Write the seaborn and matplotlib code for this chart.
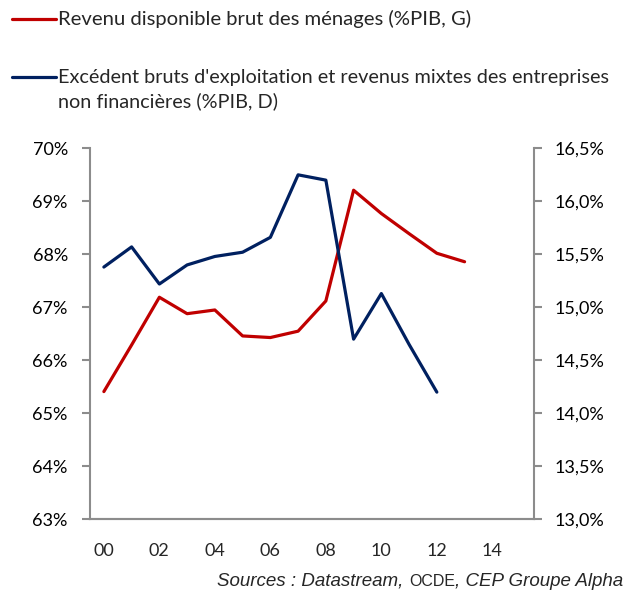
"""Revenu disponible des ménages vs EBE des entreprises (double axe)."""

import matplotlib

matplotlib.use("Agg")
import matplotlib.pyplot as plt
import pandas as pd
import seaborn as sns
from matplotlib.ticker import FixedLocator, FuncFormatter

years = list(range(2000, 2014))
menages = [65.41, 66.29, 67.19, 66.88, 66.95, 66.46, 66.43, 66.55, 67.12,
           69.21, 68.77, 68.39, 68.02, 67.86]
entreprises = [15.38, 15.57, 15.22, 15.40, 15.48, 15.52, 15.66, 16.25, 16.20,
               14.70, 15.13, 14.65, 14.20]
year_labels = ["00", "02", "04", "06", "08", "10", "12", "14"]

label_red = "Revenu disponible brut des ménages (%PIB, G)"
label_blue = ("Excédent bruts d'exploitation et revenus mixtes des entreprises\n"
              "non financières (%PIB, D)")
source_parts = [("Sources : Datastream, ", "italic", 13.5),
                ("OCDE", "normal", 11.5),
                (", CEP Groupe Alpha", "italic", 13.5)]

RED = "#c00000"
BLUE = "#002060"
GREY = "#8c8c8c"


def main():
    sns.set_style("white")
    plt.rcParams["font.family"] = ["Lato", "DejaVu Sans"]

    df_red = pd.DataFrame({"x": [y - 2000 for y in years], "v": menages})
    df_blue = pd.DataFrame({"x": [y - 2000 for y in years[:len(entreprises)]],
                            "v": entreprises})

    fig = plt.figure(figsize=(6.41, 5.91), dpi=100)
    ax = fig.add_axes([0.1404, 0.1213, 0.6926, 0.6277])
    ax2 = ax.twinx()

    sns.lineplot(data=df_red, x="x", y="v", ax=ax, color=RED, linewidth=2.3)
    sns.lineplot(data=df_blue, x="x", y="v", ax=ax2, color=BLUE, linewidth=2.3)

    ax.set_xlim(-0.5, 15.5)
    ax.set_ylim(63, 70)
    ax2.set_ylim(13.0, 16.5)
    ax.set_yticks(range(63, 71))
    ax2.set_yticks([13.0 + 0.5 * i for i in range(8)])
    ax.yaxis.set_major_formatter(FuncFormatter(lambda v, _: f"{v:.0f}%"))
    ax2.yaxis.set_major_formatter(
        FuncFormatter(lambda v, _: f"{v:.1f}%".replace(".", ",")))

    # category axis: ticks between pairs of years, labels under every other year
    ax.xaxis.set_major_locator(FixedLocator([-0.5 + 2 * i for i in range(9)]))
    ax.xaxis.set_major_formatter(FuncFormatter(lambda v, _: ""))
    ax.xaxis.set_minor_locator(FixedLocator([2 * i for i in range(8)]))
    ax.set_xticklabels(year_labels, minor=True)

    for a in (ax, ax2):
        a.set_xlabel("")
        a.set_ylabel("")
        for s in a.spines.values():
            s.set_color(GREY)
            s.set_linewidth(1.5)
        a.spines["top"].set_visible(False)
        a.tick_params(axis="both", which="major", length=6, width=1.5,
                      color=GREY, labelsize=13, labelcolor="black")
    ax.tick_params(axis="y", pad=10)
    ax2.tick_params(axis="y", pad=9)
    ax.tick_params(axis="x", which="minor", length=0, pad=17, labelsize=13)
    ax2.spines["left"].set_visible(False)
    ax.spines["right"].set_visible(False)

    # legend drawn at the top like the original
    fig.lines.append(plt.Line2D([12 / 641, 56 / 641], [1 - 19 / 591, 1 - 19 / 591],
                                color=RED, linewidth=2.3, transform=fig.transFigure))
    fig.text(58 / 641, 1 - 19 / 591, label_red, fontsize=14.6, va="center")
    fig.lines.append(plt.Line2D([12 / 641, 56 / 641], [1 - 77 / 591, 1 - 77 / 591],
                                color=BLUE, linewidth=2.3, transform=fig.transFigure))
    fig.text(58 / 641, 1 - 90 / 591, label_blue, fontsize=14.3, va="center",
             linespacing=1.42)

    # source line: italic with "OCDE" upright in small caps, right aligned
    renderer = fig.canvas.get_renderer()
    x_right = 623 / 641
    for text, style, size in reversed(source_parts):
        t = fig.text(x_right, 1 - 586 / 591, text, fontsize=size, ha="right",
                     va="baseline", style=style,
                     family=["Liberation Sans", "DejaVu Sans"])
        bb = t.get_window_extent(renderer)
        x_right = bb.x0 / fig.bbox.width

    fig.savefig("out.png", dpi=100)
    plt.close(fig)


if __name__ == "__main__":
    main()
